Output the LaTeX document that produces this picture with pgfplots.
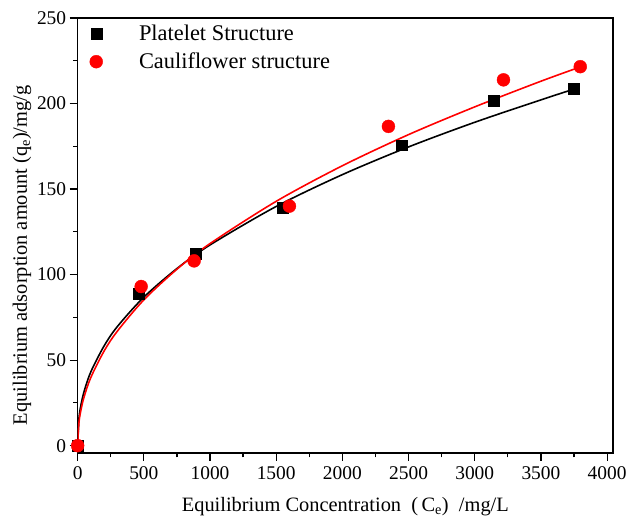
\documentclass[border=0pt]{standalone}
\usepackage{pgfplots}
\pgfplotsset{compat=1.18}
\usepackage{fontspec}
\setmainfont{Liberation Serif}

\begin{document}
\begin{tikzpicture}
\begin{axis}[
  scale only axis,
  width=538pt, height=437pt,
  xmin=0, xmax=4045,
  ymin=-4.2, ymax=250,
  xtick={0,500,...,4000},
  ytick={0,50,...,250},
  minor x tick num=1,
  minor y tick num=1,
  axis line style={line width=1.4pt},
  tick style={line width=1.2pt, black},
  major tick length=8pt,
  minor tick length=4.5pt,
  tick align=outside,
  xtick pos=bottom, ytick pos=left,
  /pgf/number format/assume math mode=true,
  /pgf/number format/1000 sep={},
  tick label style={font=\fontsize{19.5}{22}\selectfont},
  xticklabel style={yshift=-2pt},
  xlabel={Equilibrium Concentration\ \ (\,C\textsubscript{e})\ \ /mg/L},
  ylabel={Equilibrium adsorption amount (q\textsubscript{e})/mg/g},
  label style={font=\fontsize{20.5}{24}\selectfont},
  xlabel style={at={(axis description cs:0.5,0)}, anchor=center, yshift=-54pt},
  ylabel style={at={(axis description cs:0,0.5)}, anchor=center, yshift=56pt, xshift=-20pt},
  legend style={draw=none, fill=none, at={(axis description cs:0,1)}, anchor=north west,
    xshift=9pt, yshift=-3pt,
    font=\fontsize{22.5}{26}\selectfont, row sep=7pt},
  legend cell align=left,
  legend image code/.code={\path[draw=none, fill=none] (0pt,0pt) -- (41pt,0pt); \draw[#1] plot coordinates {(0pt,0pt)};},
]
% fitted curves
\addplot[black, line width=1.6pt, smooth, forget plot] coordinates {
  (0,0) (10,15.9) (25,23.7) (50,32.0) (100,43.2) (200,58.3) (300,69.6)
  (500,86.8) (750,103.5) (1000,117.3) (1500,139.8) (2000,158.4)
  (2500,174.6) (3000,189.0) (3500,202.1) (3750,208.4)
};
\addplot[red, line width=1.6pt, smooth, forget plot] coordinates {
  (0,0) (10,13.5) (25,20.8) (50,28.8) (100,39.9) (200,55.3) (300,66.9)
  (500,85.2) (750,103.1) (1000,118.1) (1500,142.8) (2000,163.6)
  (2500,181.8) (3000,198.0) (3500,213.0) (3800,221.4)
};
% data
\addplot[only marks, mark=square*, mark size=5.5pt, black] coordinates {
  (0,0) (460,89) (890,112) (1550,139) (2450,175.6) (3146,201.6) (3746,208.4)
};
\addlegendentry{Platelet Structure}
\addplot[only marks, mark=*, mark size=6.5pt, red, mark options={draw=red, fill=red}] coordinates {
  (0,0) (480,93) (880,108) (1600,140) (2348,186.6) (3217,213.8) (3797,221.5)
};
\addlegendentry{Cauliflower structure}
\end{axis}
\pgfresetboundingbox
\path (current axis.south west) ++(-78pt,-64pt) rectangle ([xshift=16pt,yshift=18pt]current axis.north east);
\end{tikzpicture}
\end{document}
